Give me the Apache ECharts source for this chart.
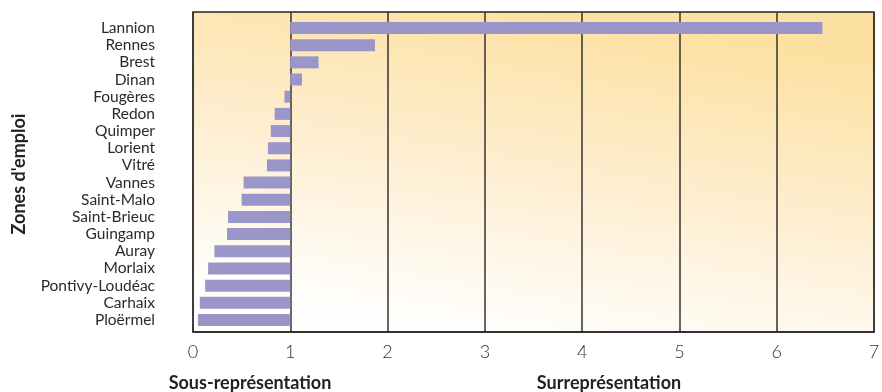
<!DOCTYPE html>
<html>
<head>
<meta charset="utf-8">
<script src="https://cdn.jsdelivr.net/npm/echarts@6/dist/echarts.min.js"></script>
<style>
  html, body { margin: 0; padding: 0; background: #ffffff; }
  #chart { width: 882px; height: 392px; }
</style>
</head>
<body>
<div id="chart"></div>
<script>
// Zones d'emploi, indice de représentation (1 = moyenne)
const zones = ['Lannion', 'Rennes', 'Brest', 'Dinan', 'Fougères', 'Redon', 'Quimper',
  'Lorient', 'Vitré', 'Vannes', 'Saint-Malo', 'Saint-Brieuc', 'Guingamp', 'Auray',
  'Morlaix', 'Pontivy-Loudéac', 'Carhaix', 'Ploërmel'];
const indices = [6.47, 1.87, 1.29, 1.12, 0.94, 0.84, 0.80, 0.77, 0.76, 0.52, 0.50,
  0.36, 0.35, 0.22, 0.155, 0.125, 0.07, 0.05];
const xTicks = [0, 1, 2, 3, 4, 5, 6, 7];
const reference = 1;

const FONT = 'Lato, "Open Sans", sans-serif';

// Bars grow from the reference value: an invisible part up to min(v, 1),
// then the visible gap between the index and 1.
const baseData = indices.map(v => Math.min(v, reference));
const gapData = indices.map(v => Math.abs(v - reference));

const chart = echarts.init(document.getElementById('chart'), null, { renderer: 'canvas' });

const frame = { left: 193, right: 8, top: 12, bottom: 60, outerBoundsMode: 'none', containLabel: false };
const bars = { left: 193, right: 8, top: 19.4, bottom: 63.4, outerBoundsMode: 'none', containLabel: false };

chart.setOption({
  animation: false,
  grid: [
    {
      ...frame,
      show: true,
      borderColor: '#262626',
      borderWidth: 1.5,
      backgroundColor: {
        type: 'linear', x: 0.46, y: 1, x2: 0.54, y2: 0,
        colorStops: [
          { offset: 0, color: '#fffefc' },
          { offset: 0.5, color: '#feeed0' },
          { offset: 1, color: '#fde1a2' }
        ]
      }
    },
    { ...bars }
  ],
  xAxis: [
    {
      gridIndex: 0, type: 'value',
      min: xTicks[0], max: xTicks[xTicks.length - 1], interval: 1,
      axisLine: { show: true, lineStyle: { color: '#262626', width: 1.5 } },
      axisTick: { show: false },
      splitLine: { show: true, lineStyle: { color: '#333333', width: 1.5 } },
      axisLabel: { color: '#333333', fontFamily: FONT, fontWeight: 300, fontSize: 18, margin: 11 }
    },
    {
      gridIndex: 1, type: 'value', min: 0, max: 7, show: false
    }
  ],
  yAxis: [
    { gridIndex: 0, type: 'value', show: false },
    {
      gridIndex: 1, type: 'category', data: zones, inverse: true,
      axisLine: { show: false }, axisTick: { show: false }, splitLine: { show: false },
      axisLabel: { color: '#2a2a2a', fontFamily: FONT, fontSize: 15.5, margin: 38, interval: 0 },
      name: "Zones d'emploi", nameLocation: 'middle', nameRotate: 90, nameGap: 165,
      nameTextStyle: { color: '#222222', fontFamily: FONT, fontWeight: 'bold', fontSize: 18 }
    }
  ],
  series: [
    {
      type: 'bar', xAxisIndex: 1, yAxisIndex: 1, stack: 'ind',
      data: baseData, barWidth: 12, silent: true,
      itemStyle: { color: 'rgba(0,0,0,0)' }
    },
    {
      type: 'bar', xAxisIndex: 1, yAxisIndex: 1, stack: 'ind',
      data: gapData, barWidth: 12,
      itemStyle: { color: '#9b96ca' }
    }
  ],
  graphic: [
    {
      type: 'text', x: 250, y: 383,
      style: { text: 'Sous-représentation', fill: '#222222', font: 'bold 18px ' + FONT,
               textAlign: 'center', textVerticalAlign: 'middle' }
    },
    {
      type: 'text', x: 609, y: 383,
      style: { text: 'Surreprésentation', fill: '#222222', font: 'bold 18px ' + FONT,
               textAlign: 'center', textVerticalAlign: 'middle' }
    }
  ]
});
</script>
</body>
</html>
